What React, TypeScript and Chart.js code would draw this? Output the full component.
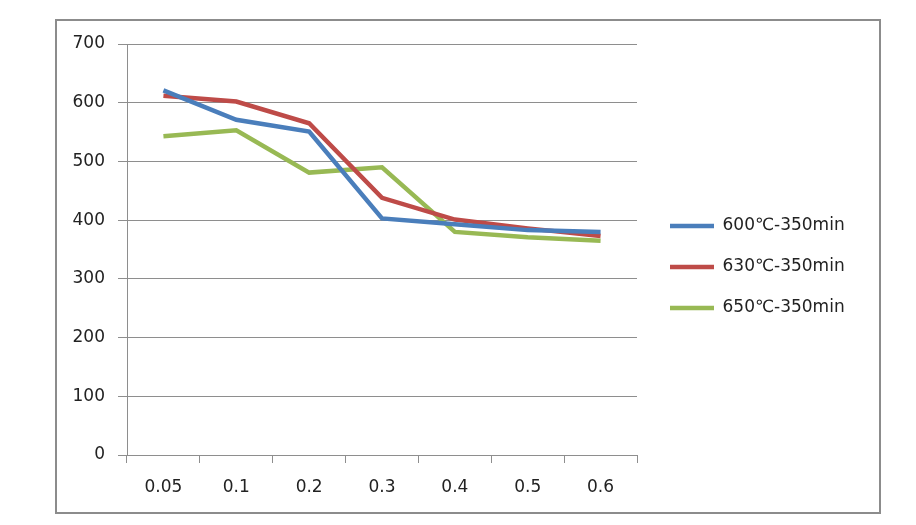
import React, { useEffect, useRef } from "react";
import { Chart, registerables } from "chart.js";

Chart.register(...registerables);

const categories = ["0.05", "0.1", "0.2", "0.3", "0.4", "0.5", "0.6"];
const series600 = [621, 571, 551, 403, 393, 383, 380];
const series630 = [612, 602, 565, 438, 401, 386, 373];
const series650 = [543, 553, 481, 490, 380, 371, 365];
const seriesLabels = ["600℃-350min", "630℃-350min", "650℃-350min"];
const seriesColors = ["#4a7ebb", "#be4b48", "#98b954"];
const yMin = 0;
const yMax = 700;
const yStep = 100;

const GRID = "#8e8e8e";
const FONT = "'DejaVu Sans', sans-serif";
const FONT_SIZE = 17;
const LEGEND_PAD = 24;
const LEGEND_LINE = 44;
const PLOT_RIGHT = 637;

const legendShift = {
  id: "legendShift",
  afterLayout(chart: any) {
    const l = chart.legend;
    if (!l) return;
    const dx = 670 - LEGEND_PAD - l.left;
    const dy = 267 - (l.top + l.bottom) / 2;
    l.left += dx;
    l.right += dx;
    l.top += dy;
    l.bottom += dy;
  },
};

export default function App() {
  const ref = useRef<HTMLCanvasElement | null>(null);

  useEffect(() => {
    if (!ref.current) return;
    const ctx = ref.current.getContext("2d")!;
    ctx.font = `${FONT_SIZE}px ${FONT}`;
    const textW = Math.max(...seriesLabels.map((s) => ctx.measureText(s).width));
    const legendW = LEGEND_PAD + LEGEND_LINE + FONT_SIZE / 2 + textW + 10;
    const padRight = Math.max(0, 916 - PLOT_RIGHT - legendW);

    const values = [series600, series630, series650];
    const chart = new Chart(ref.current, {
      type: "line",
      data: {
        labels: categories,
        datasets: values.map((v, i) => ({
          label: seriesLabels[i],
          data: v,
          borderColor: seriesColors[i],
          backgroundColor: seriesColors[i],
          borderWidth: 4.5,
          pointRadius: 0,
          pointHoverRadius: 0,
          tension: 0,
          fill: false,
        })),
      },
      plugins: [legendShift],
      options: {
        responsive: false,
        animation: false,
        devicePixelRatio: 1,
        layout: { padding: { left: 0, top: 44, bottom: 0, right: padRight } },
        plugins: {
          tooltip: { enabled: false },
          legend: {
            position: "right",
            align: "center",
            labels: {
              usePointStyle: true,
              pointStyle: "line",
              pointStyleWidth: LEGEND_LINE,
              padding: LEGEND_PAD,
              color: "#222",
              font: { family: FONT, size: FONT_SIZE },
            },
          },
        },
        scales: {
          x: {
            type: "category",
            offset: true,
            afterFit: (s: any) => {
              s.height = 70;
            },
            grid: {
              offset: true,
              drawOnChartArea: false,
              drawTicks: true,
              tickLength: 8,
              color: GRID,
            },
            border: { color: GRID, width: 1 },
            ticks: {
              padding: 14,
              color: "#222",
              font: { family: FONT, size: FONT_SIZE },
              maxRotation: 0,
            },
          },
          y: {
            min: yMin,
            max: yMax,
            afterFit: (s: any) => {
              s.width = 127;
            },
            grid: { color: GRID, tickLength: 9, lineWidth: 1 },
            border: { color: GRID, width: 1 },
            ticks: {
              stepSize: yStep,
              padding: 13,
              color: "#222",
              font: { family: FONT, size: FONT_SIZE },
            },
          },
        },
      },
    });
    return () => chart.destroy();
  }, []);

  return (
    <div style={{ position: "absolute", left: 0, top: 0, width: 916, height: 525, background: "#fff" }}>
      <div
        style={{
          position: "absolute",
          left: 55,
          top: 19,
          width: 826,
          height: 495,
          border: "2px solid #8c8c8c",
          boxSizing: "border-box",
        }}
      />
      <canvas
        ref={ref}
        width={916}
        height={525}
        style={{ position: "absolute", left: 0, top: 0, display: "block" }}
      />
    </div>
  );
}
